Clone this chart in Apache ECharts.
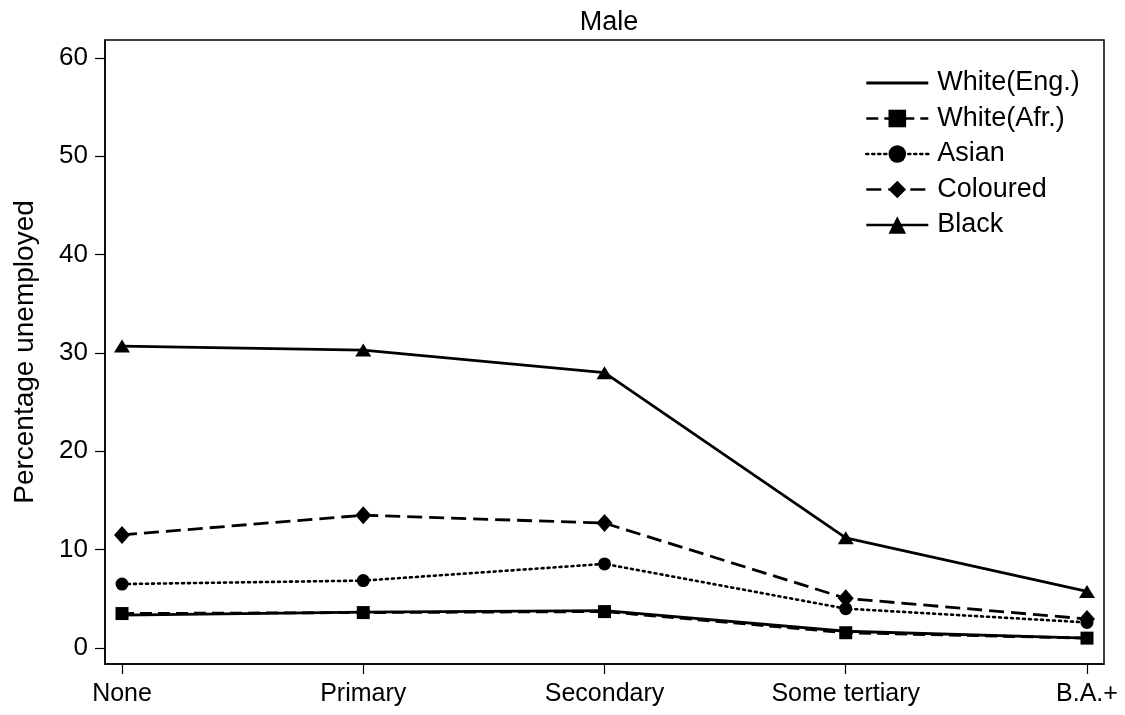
<!DOCTYPE html>
<html>
<head>
<meta charset="utf-8">
<script src="https://cdn.jsdelivr.net/npm/echarts@6/dist/echarts.min.js"></script>
<style>html,body{margin:0;padding:0;background:#fff}#c{width:1125px;height:715px}</style>
</head>
<body>
<div id="c"></div>
<script>
var categories = ['None', 'Primary', 'Secondary', 'Some tertiary', 'B.A.+'];
var whiteEng = [3.35, 3.65, 3.8, 1.7, 1.0];
var whiteAfr = [3.5, 3.6, 3.7, 1.55, 1.0];
var asian = [6.5, 6.85, 8.55, 4.0, 2.6];
var coloured = [11.5, 13.5, 12.7, 5.05, 2.95];
var black = [30.7, 30.3, 28.0, 11.2, 5.75];
var yTicks = [0, 10, 20, 30, 40, 50, 60];
var xTicks = [0, 1, 2, 3, 4];

function pts(arr) { return arr.map(function (v, i) { return [i, v]; }); }
var FONT = 'Liberation Sans, Arial, sans-serif';

var chart = echarts.init(document.getElementById('c'));
chart.setOption({
  animation: false,
  backgroundColor: '#fff',
  textStyle: { fontFamily: FONT },
  title: {
    text: 'Male', left: 604, top: 4, textAlign: 'center',
    textStyle: { fontFamily: FONT, fontSize: 27, fontWeight: 'normal', color: '#000' }
  },
  grid: { left: 105, right: 21, top: 40, bottom: 51, show: true, borderColor: '#000', borderWidth: 1.5, backgroundColor: '#fff' },
  legend: {
    orient: 'vertical', left: 860, top: 63,
    itemWidth: 62, itemHeight: 22, itemGap: 5.5,
    lineStyle: { width: 2.6 },
    textStyle: { fontFamily: FONT, fontSize: 27, color: '#000', lineHeight: 30, padding: [0, 0, 0, 4] },
    data: [
      { name: 'White(Eng.)', icon: 'path://M0,0 L62,0 L62,3 L0,3 Z', itemStyle: { color: '#000' } },
      'White(Afr.)', 'Asian', 'Coloured', 'Black'
    ]
  },
  xAxis: {
    type: 'value', min: -0.0705, max: 4.0705,
    axisLine: { show: true, onZero: false, lineStyle: { color: '#000', width: 1.5 } },
    axisTick: { show: true, length: 10, customValues: xTicks, lineStyle: { color: '#000', width: 1.2 } },
    axisLabel: { customValues: xTicks, margin: 18, fontSize: 25, color: '#000', fontFamily: FONT,
      formatter: function (v) { return categories[Math.round(v)]; } },
    splitLine: { show: false }
  },
  yAxis: {
    type: 'value', min: -1.63, max: 61.83,
    name: 'Percentage unemployed', nameLocation: 'middle', nameGap: 66,
    nameTextStyle: { fontFamily: FONT, fontSize: 28, color: '#000' },
    axisLine: { show: true, onZero: false, lineStyle: { color: '#000', width: 1.5 } },
    axisTick: { show: true, length: 10, customValues: yTicks, lineStyle: { color: '#000', width: 1.2 } },
    axisLabel: { customValues: yTicks, margin: 17, fontSize: 26, color: '#000', fontFamily: FONT },
    splitLine: { show: false }
  },
  series: [
    { name: 'White(Eng.)', type: 'line', data: pts(whiteEng), symbol: 'none',
      lineStyle: { color: '#000', width: 2.8, type: 'solid' }, itemStyle: { color: '#000' }, z: 3 },
    { name: 'White(Afr.)', type: 'line', data: pts(whiteAfr), symbol: 'rect', symbolSize: 13,
      lineStyle: { color: '#000', width: 2.8, type: [12, 6] }, itemStyle: { color: '#000' }, z: 2 },
    { name: 'Asian', type: 'line', data: pts(asian), symbol: 'circle', symbolSize: 13,
      lineStyle: { color: '#000', width: 2.6, type: [2, 4], cap: 'round' }, itemStyle: { color: '#000' } },
    { name: 'Coloured', type: 'line', data: pts(coloured), symbol: 'diamond', symbolSize: [16, 18],
      lineStyle: { color: '#000', width: 2.8, type: [15, 7] }, itemStyle: { color: '#000' } },
    { name: 'Black', type: 'line', data: pts(black), symbol: 'triangle', symbolSize: [16, 13],
      lineStyle: { color: '#000', width: 2.8, type: 'solid' }, itemStyle: { color: '#000' } }
  ]
});
</script>
</body>
</html>
